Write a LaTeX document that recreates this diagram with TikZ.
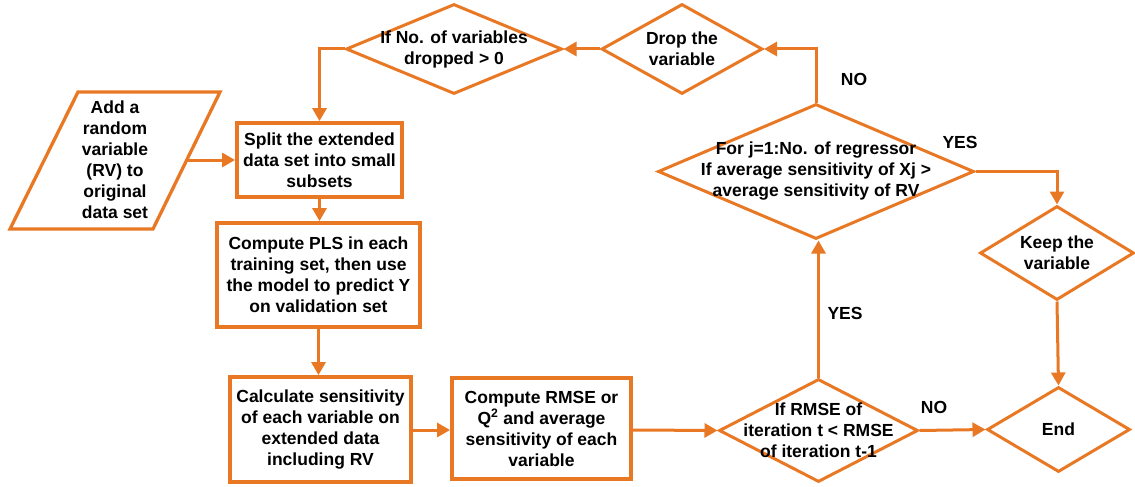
\documentclass[tikz,border=0pt]{standalone}
\usepackage{fontspec}
\setmainfont{Liberation Sans}
\usetikzlibrary{shapes.geometric,arrows.meta}
\definecolor{flow}{RGB}{232,120,36}
\begin{document}
\begin{tikzpicture}[x=1pt,y=-1pt,
  every node/.style={font=\fontsize{17.5}{21}\selectfont\bfseries},
  box/.style={draw=flow,line width=3.8pt,rectangle,inner sep=0pt},
  decision/.style={draw=flow,line width=3pt,diamond,inner sep=0pt},
  txt/.style={align=center,inner sep=0pt},
  flowline/.style={draw=flow,line width=3pt},
  arrow/.style={flowline,-{Triangle[length=13pt,width=14pt]}},
  tag/.style={inner sep=0pt}]
\useasboundingbox (0,0) rectangle (1135,487);

% input parallelogram
\draw[flowline,line width=3.3pt,line join=miter] (78,92) -- (220,92) -- (153,229) -- (10,229) -- cycle;
\node[txt] (input) at (115,160) {Add a\\random\\variable\\(RV) to\\original\\data set};
\coordinate (inR) at (187,160);

% process boxes
\node[box,minimum width=165pt,minimum height=74pt] (split) at (319.5,160) {};
\node[txt] (splitt) at (split) {Split the extended\\data set into small\\subsets};
\node[box,minimum width=203pt,minimum height=104pt] (pls) at (318.5,275) {};
\node[txt] (plst) at (pls) {Compute PLS in each\\training set, then use\\the model to predict Y\\on validation set};
\node[box,minimum width=181pt,minimum height=105pt] (calc) at (320.5,429.5) {};
\node[txt] (calct) at (calc) {Calculate sensitivity\\of each variable on\\extended data\\including RV};
\node[box,minimum width=179pt,minimum height=101pt] (rmse) at (541.5,428.5) {};
\node[txt] (rmset) at (rmse) {Compute RMSE or\\Q\textsuperscript{2} and average\\sensitivity of each\\variable};

% decisions
\node[decision,minimum width=199pt,minimum height=103pt] (test) at (818.5,430.5) {};
\node[txt] (testt) at (test) {If RMSE of\\iteration t < RMSE\\of iteration t-1};
\node[decision,minimum width=143pt,minimum height=85pt] (end) at (1058.5,429.5) {};
\node[txt] (endt) at (end) {End};
\node[decision,minimum width=154pt,minimum height=94pt] (keep) at (1057,253) {};
\node[txt] (keept) at (keep) {Keep the\\variable};
\node[decision,minimum width=316pt,minimum height=135pt] (sens) at (816,171.5) {};
\node[txt] (senst) at (sens) {For j=1:No. of regressor\\If average sensitivity of Xj >\\average sensitivity of RV};
\node[decision,minimum width=161pt,minimum height=90pt] (drop) at (682,49) {};
\node[txt] (dropt) at (drop) {Drop the\\variable};
\node[decision,minimum width=216pt,minimum height=90pt] (count) at (454,49) {};
\node[txt] (countt) at (count) {If No. of variables\\dropped > 0};

% connectors
\draw[arrow] (inR) -- (inR -| split.west);
\draw[arrow] (split.south) -- (split.south |- pls.north);
\draw[arrow] (pls.south) -- (pls.south |- calc.north);
\draw[arrow] (calc.east |- 0,430) -- (rmse.west |- 0,430);
\draw[arrow] (rmse.east |- 0,430) -- (test.west);
\draw[arrow] (test.north) -- (test.north |- sens.south);
\draw[arrow] (test.east) -- (end.west);
\draw[arrow] (sens.north) -- (sens.north |- drop.east) -- (drop.east);
\draw[arrow] (drop.west) -- (count.east);
\draw[arrow] (count.west) -- (319.5,49) -- (split.north);
\draw[arrow] (sens.east) -- (sens.east -| keep.north) -- (keep.north);
\draw[arrow] (keep.south) -- (end.north);

% branch labels
\node[tag] (noA) at (854,79) {NO};
\node[tag] (yesA) at (960,142) {YES};
\node[tag] (yesB) at (845,313) {YES};
\node[tag] (noB) at (934,407) {NO};
\end{tikzpicture}
\end{document}
